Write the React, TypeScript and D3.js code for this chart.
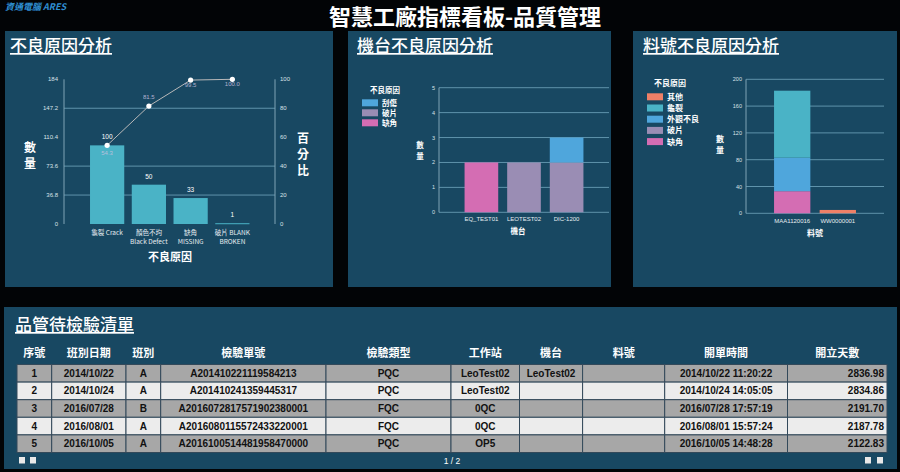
import React from "react";
import * as d3 from "d3";

// ---------- DATA ----------
const reasonCats = ["龜裂 Crack", "顏色不均 Black Defect", "缺角 MISSING", "破片 BLANK BROKEN"];
const reasonLabelLines = [["龜裂 Crack"], ["顏色不均", "Black Defect"], ["缺角", "MISSING"], ["破片 BLANK", "BROKEN"]];
const reasonValues = [100, 50, 33, 1];
const leftTicks = [0, 36.8, 73.6, 110.4, 147.2, 184];
const leftGridTicks = [36.8, 73.6, 147.2];
const rightTicks = [0, 20, 40, 60, 80, 100];

const machineCats = ["EQ_TEST01", "LEOTEST02", "DIC-1200"];
const machineKeys = ["缺角", "破片", "刮傷"]; // bottom -> top
const machineLegend = ["刮傷", "破片", "缺角"];
const machineScratch = [0, 0, 1];
const machineChip = [0, 2, 2];
const machineMissing = [2, 0, 0];
const machineTicks = [0, 1, 2, 3, 4, 5];

const partCats = ["MAA1120016", "WW0000001"];
const partKeys = ["缺角", "破片", "外觀不良", "龜裂", "其他"]; // bottom -> top
const partLegend = ["其他", "龜裂", "外觀不良", "破片", "缺角"];
const partOther = [0, 5];
const partCrack = [100, 0];
const partAppearance = [50, 0];
const partChip = [0, 0];
const partMissing = [33, 0];
const partTicks = [0, 40, 80, 120, 160, 200];

const tableHeaders = ["序號", "班別日期", "班別", "檢驗單號", "檢驗類型", "工作站", "機台", "料號", "開單時間", "開立天數"];
const colSeq = ["1", "2", "3", "4", "5"];
const colDate = ["2014/10/22", "2014/10/24", "2016/07/28", "2016/08/01", "2016/10/05"];
const colShift = ["A", "A", "B", "A", "A"];
const colOrder = ["A201410221119584213", "A201410241359445317", "A2016072817571902380001", "A2016080115572433220001", "A2016100514481958470000"];
const colType = ["PQC", "PQC", "FQC", "FQC", "PQC"];
const colStation = ["LeoTest02", "LeoTest02", "0QC", "0QC", "OP5"];
const colMachine = ["LeoTest02", "", "", "", ""];
const colPart = ["", "", "", "", ""];
const colTime = ["2014/10/22 11:20:22", "2014/10/24 14:05:05", "2016/07/28 17:57:19", "2016/08/01 15:57:24", "2016/10/05 14:48:28"];
const colDays = ["2836.98", "2834.86", "2191.70", "2187.78", "2122.83"];

// ---------- STYLE ----------
const CJK = "'Noto Sans CJK TC', 'Noto Sans', sans-serif";
const ARIAL = "'Liberation Sans', Arial, sans-serif";
const PANEL = "#184862";
const GRID = "#5f93ab";
const colorMap: Record<string, string> = {
  其他: "#ef8067",
  龜裂: "#4ab3c6",
  外觀不良: "#4fa6dc",
  刮傷: "#4fa6dc",
  破片: "#9a8db4",
  缺角: "#d46db3",
};

function VText({ x, y, text, size, step }: { x: number; y: number; text: string; size: number; step: number }) {
  return (
    <text x={x} y={y} fill="#fff" fontSize={size} fontFamily={CJK} fontWeight={700} textAnchor="middle">
      {text.split("").map((c, i) => (
        <tspan key={i} x={x} y={y + i * step}>{c}</tspan>
      ))}
    </text>
  );
}

function ParetoChart() {
  const x = d3.scaleBand<string>().domain(reasonCats).range([82.5, 257]).paddingInner(0.18).paddingOuter(0.18);
  const yL = d3.scaleLinear().domain([0, 184]).range([224, 79.3]);
  const yR = d3.scaleLinear().domain([0, 100]).range([224, 79.3]);
  const total = d3.sum(reasonValues);
  const cum = d3.cumsum(reasonValues);
  const pct = Array.from(cum, (c) => (c / total) * 100);
  const pts = reasonCats.map((c, i) => [x(c)! + x.bandwidth() / 2, yR(pct[i])] as [number, number]);
  const line = d3.line()(pts) || "";
  const labelDy = [10, -7, 7, 7];
  return (
    <g>
      {leftGridTicks.map((t) => (
        <line key={t} x1={64} x2={275} y1={yL(t)} y2={yL(t)} stroke={GRID} strokeWidth={1} />
      ))}
      <line x1={64} x2={64} y1={79.3} y2={224} stroke="#7ea3b5" strokeWidth={1} />
      <line x1={275} x2={275} y1={79.3} y2={224} stroke="#7ea3b5" strokeWidth={1} />
      {leftTicks.map((t) => (
        <text key={t} x={58} y={yL(t) + 2} fill="#d8e2e8" fontSize={6} fontFamily={ARIAL} textAnchor="end">
          {t}
        </text>
      ))}
      {rightTicks.map((t) => (
        <text key={t} x={280} y={yR(t) + 2} fill="#d8e2e8" fontSize={6} fontFamily={ARIAL}>
          {t}
        </text>
      ))}
      {reasonCats.map((c, i) => (
        <g key={c}>
          <rect x={x(c)} y={yL(reasonValues[i])} width={x.bandwidth()} height={Math.max(1, 224 - yL(reasonValues[i]))} fill="#4ab3c6" />
          <text x={x(c)! + x.bandwidth() / 2} y={yL(reasonValues[i]) - 6} fill="#fff" fontSize={6.5} fontFamily={ARIAL} textAnchor="middle">
            {reasonValues[i]}
          </text>
          {reasonLabelLines[i].map((l, j) => (
            <text key={j} x={x(c)! + x.bandwidth() / 2} y={235 + j * 9} fill="#e6edf1" fontSize={6.5} fontFamily={CJK} textAnchor="middle">
              {l}
            </text>
          ))}
        </g>
      ))}
      <path d={line} fill="none" stroke="#b9b9b9" strokeWidth={1} />
      {pts.map((p, i) => (
        <g key={i}>
          <circle cx={p[0]} cy={p[1]} r={2.6} fill="#fff" />
          <text x={p[0]} y={p[1] + labelDy[i]} fill="#c9c3e0" fontSize={6} fontFamily={ARIAL} textAnchor="middle" opacity={0.85}>
            {pct[i].toFixed(1)}
          </text>
        </g>
      ))}
      <VText x={30} y={152} text="數量" size={12} step={16} />
      <VText x={303} y={143} text="百分比" size={12} step={16} />
      <text x={170} y={261} fill="#fff" fontSize={11} fontWeight={700} fontFamily={CJK} textAnchor="middle">不良原因</text>
    </g>
  );
}

function StackChart({
  cats, keys, series, legend, ticks, maxV, xRange, y0, y1, pi, po, axisX, labelX, labelY, legendX, legendTitleY, legendStart, legendStep, xTitle, xTitleX, xTitleY, xLabelY, fs,
}: any) {
  const x = d3.scaleBand<string>().domain(cats).range(xRange).paddingInner(pi).paddingOuter(po);
  const y = d3.scaleLinear().domain([0, maxV]).range([y0, y1]);
  const table = cats.map((c: string, i: number) => {
    const o: any = { cat: c };
    keys.forEach((k: string, j: number) => (o[k] = series[j][i]));
    return o;
  });
  const stacked = d3.stack<any>().keys(keys)(table);
  return (
    <g>
      {ticks.map((t: number) => (
        <line key={t} x1={axisX} x2={xRange[1]} y1={y(t)} y2={y(t)} stroke={GRID} strokeWidth={1} />
      ))}
      <line x1={axisX} x2={axisX} y1={y1} y2={y0} stroke="#7ea3b5" strokeWidth={1} />
      {ticks.map((t: number) => (
        <text key={t} x={axisX - 4} y={y(t) + 2} fill="#d8e2e8" fontSize={5.5} fontFamily={ARIAL} textAnchor="end">
          {t}
        </text>
      ))}
      {stacked.map((s) =>
        s.map((d, i) =>
          d[1] - d[0] > 0 ? (
            <rect key={s.key + i} x={x(cats[i])} y={y(d[1])} width={x.bandwidth()} height={y(d[0]) - y(d[1])} fill={colorMap[s.key]} />
          ) : null
        )
      )}
      {cats.map((c: string) => (
        <text key={c} x={x(c)! + x.bandwidth() / 2} y={xLabelY} fill="#e6edf1" fontSize={6} fontFamily={ARIAL} textAnchor="middle">
          {c}
        </text>
      ))}
      <VText x={labelX} y={labelY} text="數量" size={fs} step={fs + 3} />
      <text x={xTitleX} y={xTitleY} fill="#fff" fontSize={fs} fontWeight={700} fontFamily={CJK} textAnchor="middle">{xTitle}</text>
      <text x={legendX + 23} y={legendTitleY} fill="#fff" fontSize={fs} fontWeight={700} fontFamily={CJK} textAnchor="middle">不良原因</text>
      {legend.map((k: string, i: number) => (
        <g key={k}>
          <rect x={legendX} y={legendStart + i * legendStep} width={16} height={7} fill={colorMap[k]} />
          <text x={legendX + 20} y={legendStart + i * legendStep + 6.5} fill="#fff" fontSize={fs} fontWeight={700} fontFamily={CJK}>{k}</text>
        </g>
      ))}
    </g>
  );
}

function DataTable() {
  const cols = [17, 51.7, 126, 160.7, 326, 451, 519.5, 582.6, 664.7, 787.5, 887];
  const rowTop = 364.5;
  const rowH = 17.6;
  const columns = [colSeq, colDate, colShift, colOrder, colType, colStation, colMachine, colPart, colTime, colDays];
  return (
    <g>
      {tableHeaders.map((h, j) => (
        <text key={h} x={(cols[j] + cols[j + 1]) / 2} y={357} fill="#fff" fontSize={11} fontWeight={700} fontFamily={CJK} textAnchor="middle">
          {h}
        </text>
      ))}
      {colSeq.map((_, i) => (
        <g key={i}>
          {columns.map((col, j) => {
            const x0 = cols[j];
            const x1 = cols[j + 1];
            const yT = rowTop + i * rowH;
            const right = j === columns.length - 1;
            return (
              <g key={j}>
                <rect x={x0} y={yT} width={x1 - x0} height={rowH} fill={i % 2 === 0 ? "#a7a7a7" : "#ececec"} stroke="#33495a" strokeWidth={1} />
                <text x={right ? x1 - 3 : (x0 + x1) / 2} y={yT + rowH / 2 + 3.5} fill="#111" fontSize={10} fontWeight={700} fontFamily={ARIAL} textAnchor={right ? "end" : "middle"}>
                  {col[i]}
                </text>
              </g>
            );
          })}
        </g>
      ))}
      <rect x={19} y={457} width={6} height={6.5} fill="#e8e8e8" />
      <rect x={30} y={457} width={6} height={6.5} fill="#e8e8e8" />
      <text x={452} y={463.5} fill="#fff" fontSize={8.5} fontFamily={ARIAL} textAnchor="middle">1 / 2</text>
      <rect x={865} y={457} width={6} height={6.5} fill="#e8e8e8" />
      <rect x={877} y={457} width={6} height={6.5} fill="#e8e8e8" />
    </g>
  );
}

export default function App() {
  return (
    <svg width={900} height={472} style={{ position: "absolute", left: 0, top: 0, display: "block", background: "#000" }}>
      <rect x={0} y={0} width={900} height={472} fill="#020406" />
      <text x={5} y={10} fill="#2f8fd2" fontSize={9} fontStyle="italic" fontWeight={700} fontFamily={CJK}>資通電腦 ARES</text>
      <text x={465} y={25} fill="#fff" fontSize={22} fontWeight={700} fontFamily={CJK} textAnchor="middle">智慧工廠指標看板-品質管理</text>

      <rect x={5} y={31} width={328} height={256} fill={PANEL} />
      <rect x={348} y={31} width={263} height={256} fill={PANEL} />
      <rect x={633} y={31} width={264} height={256} fill={PANEL} />
      <rect x={4} y={307} width={893} height={162} fill={PANEL} />

      <text x={10} y={52} fill="#fff" fontSize={17} fontFamily={CJK} fontWeight={500} style={{ textDecoration: "underline" }}>不良原因分析</text>
      <text x={357} y={52} fill="#fff" fontSize={17} fontFamily={CJK} fontWeight={500} style={{ textDecoration: "underline" }}>機台不良原因分析</text>
      <text x={643} y={52} fill="#fff" fontSize={17} fontFamily={CJK} fontWeight={500} style={{ textDecoration: "underline" }}>料號不良原因分析</text>
      <text x={15} y={331} fill="#fff" fontSize={17} fontFamily={CJK} fontWeight={500} style={{ textDecoration: "underline" }}>品管待檢驗清單</text>

      <ParetoChart />
      <StackChart
        cats={machineCats}
        keys={machineKeys}
        series={[machineMissing, machineChip, machineScratch]}
        legend={machineLegend}
        ticks={machineTicks}
        maxV={5}
        xRange={[439, 609]}
        y0={212.3}
        y1={87.7}
        pi={0.21}
        po={0.6}
        axisX={439}
        labelX={420}
        labelY={148}
        legendX={362}
        legendTitleY={93}
        legendStart={99.3}
        legendStep={10}
        xTitle="機台"
        xTitleX={518}
        xTitleY={234}
        xLabelY={221}
        fs={7.5}
      />
      <StackChart
        cats={partCats}
        keys={partKeys}
        series={[partMissing, partChip, partAppearance, partCrack, partOther]}
        legend={partLegend}
        ticks={partTicks}
        maxV={200}
        xRange={[746, 884]}
        y0={213.3}
        y1={79.3}
        pi={0.204}
        po={0.615}
        axisX={746}
        labelX={720}
        labelY={142}
        legendX={647}
        legendTitleY={86}
        legendStart={93.3}
        legendStep={11.2}
        xTitle="料號"
        xTitleX={815}
        xTitleY={236}
        xLabelY={222.5}
        fs={8}
      />
      <DataTable />
    </svg>
  );
}
